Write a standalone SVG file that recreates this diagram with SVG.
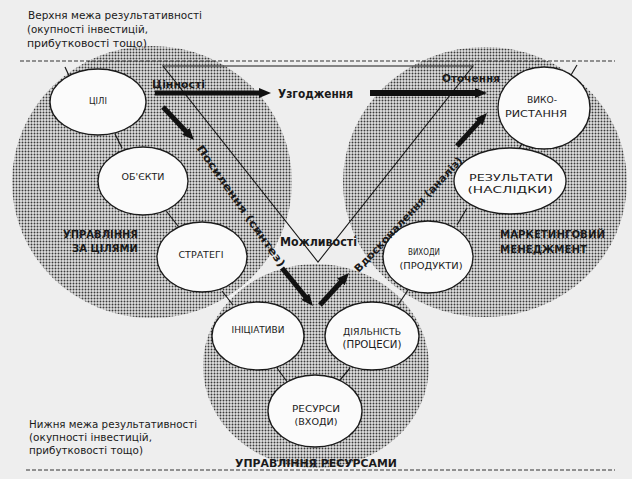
<svg xmlns="http://www.w3.org/2000/svg" width="632" height="479" viewBox="0 0 632 479">
<defs>
<pattern id="stip" width="3" height="3" patternUnits="userSpaceOnUse">
<rect width="3" height="3" fill="#e0e0e0"/>
<circle cx="1.5" cy="1.5" r="0.95" fill="#3a3a3a"/>
</pattern>
<marker id="ah" viewBox="0 0 12 10" refX="1" refY="5" markerWidth="12" markerHeight="10" markerUnits="userSpaceOnUse" orient="auto">
<path d="M0,0 L12,5 L0,10 z" fill="#111"/>
</marker>
<style>
text{font-family:'DejaVu Sans','Liberation Sans',sans-serif;fill:#1a1a1a}
.zone{fill:url(#stip)}
.node{fill:#fbfbfb;stroke:#1a1a1a;stroke-width:1.3}
.nt{font-size:9px;text-anchor:middle}
.bl{font-weight:bold}
.note{font-size:10.5px}
.dash{stroke:#333;stroke-width:1.2;stroke-dasharray:4 2;fill:none}
.link{stroke:#1a1a1a;stroke-width:1.2;fill:none}
.arr{stroke:#111;stroke-width:5;fill:none;marker-end:url(#ah)}
</style>
</defs>
<rect width="632" height="479" fill="#eeeeee"/>

<g id="zones">
<ellipse class="zone" cx="152" cy="182" rx="140" ry="136"/>
<ellipse class="zone" cx="485" cy="182" rx="142" ry="135"/>
<ellipse class="zone" cx="316" cy="366" rx="113" ry="102"/>
</g>

<g id="bounds">
<line class="dash" x1="20" y1="61" x2="615" y2="61"/>
<line class="dash" x1="26" y1="470" x2="615" y2="470"/>
<polygon points="163,66 473,66 318,262" fill="none" stroke="#1a1a1a" stroke-width="1.1"/>
</g>

<g id="connectors">
<line class="link" x1="65" y1="67" x2="70" y2="78"/>
<line class="link" x1="577" y1="65" x2="571" y2="75"/>
<line class="link" x1="115" y1="134" x2="122" y2="148"/>
<line class="link" x1="167" y1="212" x2="178" y2="226"/>
<line class="link" x1="222" y1="291" x2="233" y2="305"/>
<line class="link" x1="524" y1="141" x2="518" y2="150"/>
<line class="link" x1="467" y1="208" x2="457" y2="225"/>
<line class="link" x1="408" y1="290" x2="398" y2="305"/>
<line class="link" x1="277" y1="368" x2="288" y2="383"/>
<line class="link" x1="350" y1="368" x2="340" y2="380"/>
<line class="arr" x1="155" y1="93" x2="260" y2="93"/>
<line class="arr" x1="370" y1="93" x2="476" y2="93" style="stroke-width:6"/>
<line class="arr" x1="163" y1="107" x2="186.5" y2="132"/>
<line class="arr" x1="282" y1="268" x2="306" y2="297.5"/>
<line class="arr" x1="320" y1="305" x2="341.6" y2="281.2"/>
<line class="arr" x1="457" y1="146" x2="479.6" y2="121.1"/>
</g>

<g id="n-cili"><ellipse class="node" cx="98" cy="102" rx="48" ry="33"/><text class="nt" x="98" y="104" textLength="18" lengthAdjust="spacingAndGlyphs">ЦІЛІ</text></g>
<g id="n-obekty"><ellipse class="node" cx="143" cy="181" rx="45" ry="34"/><text class="nt" x="143" y="180" textLength="43" lengthAdjust="spacingAndGlyphs">ОБ'ЄКТИ</text></g>
<g id="n-stratehi"><ellipse class="node" cx="202" cy="257" rx="45" ry="35"/><text class="nt" x="201" y="258" textLength="45" lengthAdjust="spacingAndGlyphs">СТРАТЕГІ</text></g>
<g id="n-vykorystannia"><ellipse class="node" cx="544" cy="108" rx="46" ry="41"/><text class="nt" x="542" y="103" textLength="30" lengthAdjust="spacingAndGlyphs">ВИКО-</text><text class="nt" x="536" y="117" textLength="62" lengthAdjust="spacingAndGlyphs">РИСТАННЯ</text></g>
<g id="n-rezultaty"><ellipse class="node" cx="510" cy="181" rx="56" ry="33"/><text class="nt" x="511" y="181" textLength="84" lengthAdjust="spacingAndGlyphs">РЕЗУЛЬТАТИ</text><text class="nt" x="510" y="193" textLength="85" lengthAdjust="spacingAndGlyphs">(НАСЛІДКИ)</text></g>
<g id="n-vykhody"><ellipse class="node" cx="428" cy="257" rx="45" ry="36"/><text class="nt" x="424" y="255" textLength="32" lengthAdjust="spacingAndGlyphs">ВИХОДИ</text><text class="nt" x="431" y="269" textLength="63" lengthAdjust="spacingAndGlyphs">(ПРОДУКТИ)</text></g>
<g id="n-initsiatyvy"><ellipse class="node" cx="258" cy="336" rx="46" ry="34"/><text class="nt" x="258" y="333" textLength="53" lengthAdjust="spacingAndGlyphs">ІНІЦІАТИВИ</text></g>
<g id="n-diialnist"><ellipse class="node" cx="372" cy="336" rx="47" ry="34"/><text class="nt" x="372" y="335" textLength="58" lengthAdjust="spacingAndGlyphs">ДІЯЛЬНІСТЬ</text><text class="nt" x="372" y="348" textLength="59" lengthAdjust="spacingAndGlyphs" style="font-size:10px">(ПРОЦЕСИ)</text></g>
<g id="n-resursy"><ellipse class="node" cx="315" cy="411" rx="47" ry="36"/><text class="nt" x="316" y="412" textLength="48" lengthAdjust="spacingAndGlyphs">РЕСУРСИ</text><text class="nt" x="316" y="425" textLength="43" lengthAdjust="spacingAndGlyphs">(ВХОДИ)</text></g>

<g id="labels">
<text class="note" x="28" y="19" textLength="174" lengthAdjust="spacingAndGlyphs">Верхня межа результативності</text>
<text class="note" x="27" y="33" textLength="121" lengthAdjust="spacingAndGlyphs">(окупності інвестицій,</text>
<text class="note" x="27" y="47" textLength="120" lengthAdjust="spacingAndGlyphs">прибутковості тощо)</text>
<text class="note" x="29" y="428" textLength="168" lengthAdjust="spacingAndGlyphs" style="font-size:10px">Нижня межа результативності</text>
<text class="note" x="29" y="441" textLength="123" lengthAdjust="spacingAndGlyphs" style="font-size:10px">(окупності інвестицій,</text>
<text class="note" x="29" y="454" textLength="114" lengthAdjust="spacingAndGlyphs" style="font-size:10px">прибутковості тощо)</text>
<text class="bl" x="152" y="88" font-size="11" textLength="53" lengthAdjust="spacingAndGlyphs">Цінності</text>
<text class="bl" x="278" y="98" font-size="12" textLength="75" lengthAdjust="spacingAndGlyphs">Узгодження</text>
<text class="bl" x="442" y="82" font-size="10" textLength="58" lengthAdjust="spacingAndGlyphs">Оточення</text>
<text class="bl" x="280" y="246" font-size="12" textLength="77" lengthAdjust="spacingAndGlyphs">Можливості</text>
<text class="bl" x="138" y="238" font-size="10" text-anchor="end" textLength="75" lengthAdjust="spacingAndGlyphs">УПРАВЛІННЯ</text>
<text class="bl" x="138" y="252" font-size="10" text-anchor="end" textLength="66" lengthAdjust="spacingAndGlyphs">ЗА ЦІЛЯМИ</text>
<text class="bl" x="500" y="238" font-size="10" textLength="105" lengthAdjust="spacingAndGlyphs">МАРКЕТИНГОВИЙ</text>
<text class="bl" x="500" y="253" font-size="10" textLength="87" lengthAdjust="spacingAndGlyphs">МЕНЕДЖМЕНТ</text>
<text class="bl" x="235" y="467" font-size="11" textLength="162" lengthAdjust="spacingAndGlyphs">УПРАВЛІННЯ РЕСУРСАМИ</text>
<text class="bl" x="0" y="0" font-size="10.5" text-anchor="middle" textLength="146" lengthAdjust="spacingAndGlyphs" transform="translate(238,208) rotate(55)">Посилення (синтез)</text>
<text class="bl" x="0" y="0" font-size="10.5" text-anchor="middle" textLength="153" lengthAdjust="spacingAndGlyphs" transform="translate(411,217) rotate(-47)">Вдосконалення (аналіз)</text>
</g>
</svg>
